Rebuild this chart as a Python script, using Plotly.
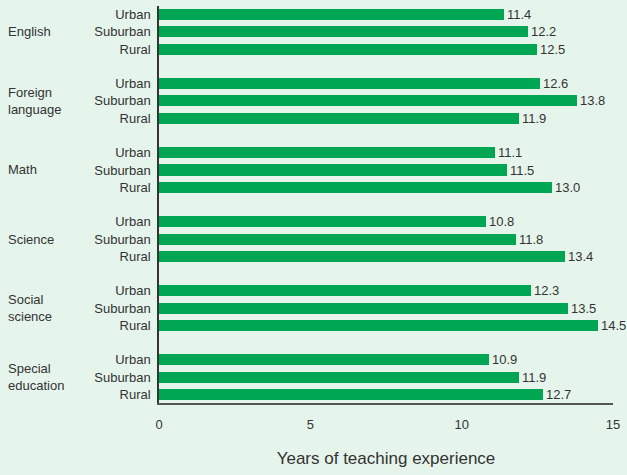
import plotly.graph_objects as go

subjects = ["English", "Foreign<br>language", "Math", "Science", "Social<br>science", "Special<br>education"]
locales = ["Urban", "Suburban", "Rural"]
urban = [11.4, 12.6, 11.1, 10.8, 12.3, 10.9]
suburban = [12.2, 13.8, 11.5, 11.8, 13.5, 11.9]
rural = [12.5, 11.9, 13.0, 13.4, 14.5, 12.7]
x_ticks = [0, 5, 10, 15]

FONT = "Liberation Sans, Arial, sans-serif"
BG = "#e6f5ec"
BAR = "#00a651"

ys, xs, labels = [], [], []
for g in range(len(subjects)):
    vals = [urban[g], suburban[g], rural[g]]
    for k in range(3):
        ys.append(g * 4 + k)
        xs.append(vals[k])
        labels.append(locales[k])

fig = go.Figure()
fig.add_trace(go.Bar(
    x=xs, y=ys, orientation="h", marker=dict(color=BAR, line=dict(width=0)),
    width=0.64, text=[f"{v:.1f}" for v in xs], textposition="outside",
    constraintext="none",
    textfont=dict(family=FONT, size=13, color="#333333"), cliponaxis=False,
    hoverinfo="skip",
))

for g, s in enumerate(subjects):
    fig.add_annotation(x=0, xref="paper", xshift=-153, y=g * 4 + 1, yref="y",
                       text=s, showarrow=False, xanchor="left", align="left",
                       font=dict(family=FONT, size=13, color="#333333"))

fig.update_layout(
    width=627, height=475, paper_bgcolor=BG, plot_bgcolor=BG,
    margin=dict(l=159, r=14, t=6, b=72),
    showlegend=False, bargap=0,
    xaxis=dict(range=[0, 15], tickvals=x_ticks, showgrid=False, zeroline=False,
               showline=True, linecolor="#555555", linewidth=2, ticks="",
               ticklabelstandoff=8,
               tickfont=dict(family=FONT, size=13, color="#333333"),
               title=dict(text="Years of teaching experience", standoff=22,
                          font=dict(family=FONT, size=17, color="#333333"))),
    yaxis=dict(range=[22.5, -0.5], tickvals=ys, ticktext=labels, showgrid=False,
               zeroline=False, showline=True, linecolor="#333333", linewidth=1.5,
               ticks="", ticklabelstandoff=4,
               tickfont=dict(family=FONT, size=13, color="#333333")),
)

fig.write_html("out.html", config={"displayModeBar": False},
               post_script="document.body.style.margin='0';document.body.style.overflow='hidden';document.body.style.background='%s';" % BG)
